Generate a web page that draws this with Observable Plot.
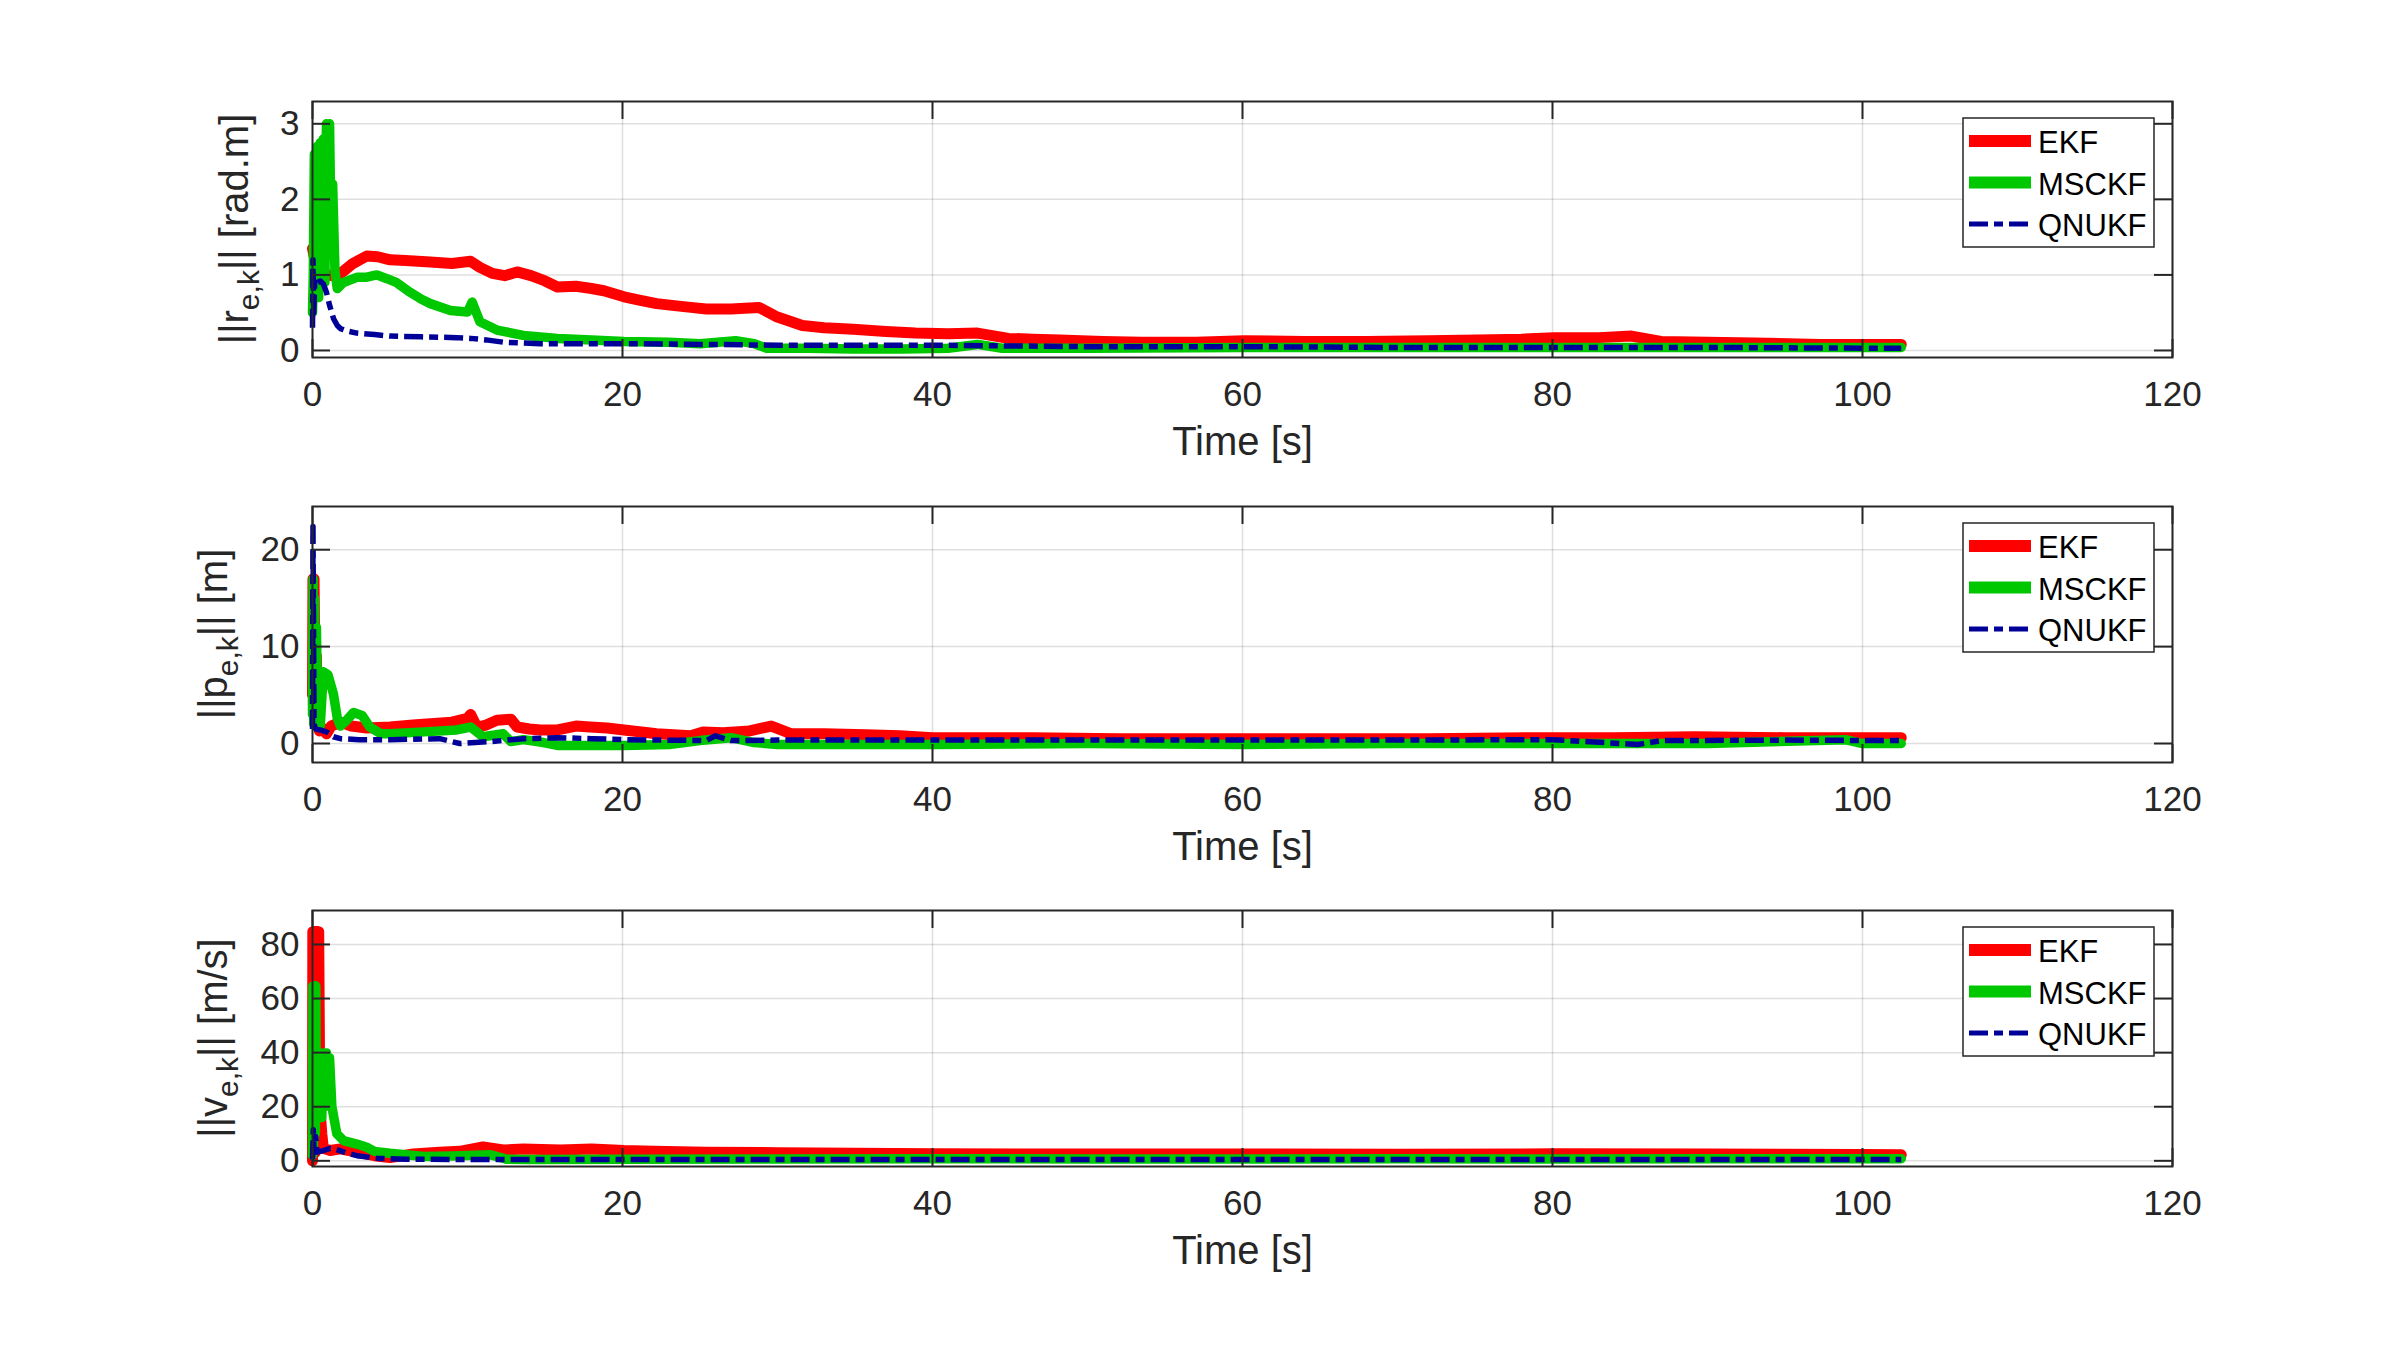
<!DOCTYPE html>
<html><head><meta charset="utf-8">
<script src="https://cdn.jsdelivr.net/npm/d3@7"></script>
<script src="https://cdn.jsdelivr.net/npm/@observablehq/plot@0.6"></script>
<style>
html,body{margin:0;padding:0;background:#fff;}
#fig{position:relative;width:2400px;height:1350px;overflow:hidden;background:#fff;}
#fig svg{position:absolute;left:0;}
</style></head><body><div id="fig"></div>
<script>
// ---------- series meta ----------
const seriesNames = ["EKF", "MSCKF", "QNUKF"];
const seriesColors = ["#ff0000", "#00c800", "#000099"];
const xTicks = [0, 20, 40, 60, 80, 100, 120];
const xLabel = "Time [s]";

// ---------- panel 1: ||r_e,k|| [rad.m] ----------
const rTicks = [0, 1, 2, 3];
const rEKF_t = [0, 0.1, 0.3, 0.6, 1.0, 1.5, 2.0, 2.6, 3.5, 4.2, 5.0, 6.0, 7.6, 9.0, 10.2, 10.8, 11.6, 12.4, 13.2, 14.1, 15.0, 15.8, 17.0, 18.0, 18.8, 20.1, 21.0, 22.2, 23.5, 24.4, 25.4, 27.0, 28.8, 29.9, 31.6, 33.0, 34.9, 37.0, 38.9, 41.0, 42.9, 44.9, 46.5, 48.2, 51.0, 53.5, 57.0, 60.1, 64.0, 68.0, 72.0, 75.2, 78.0, 80.1, 83.0, 85.1, 87.0, 90.0, 93.0, 97.3, 100.6, 102.5];
const rEKF_v = [1.35, 1.25, 1.15, 1.05, 1.0, 0.98, 1.05, 1.15, 1.25, 1.24, 1.20, 1.19, 1.17, 1.15, 1.18, 1.10, 1.02, 0.99, 1.04, 0.99, 0.92, 0.84, 0.85, 0.82, 0.79, 0.71, 0.67, 0.62, 0.59, 0.57, 0.55, 0.55, 0.57, 0.45, 0.33, 0.30, 0.28, 0.25, 0.23, 0.22, 0.23, 0.16, 0.15, 0.14, 0.12, 0.11, 0.11, 0.13, 0.12, 0.12, 0.13, 0.14, 0.15, 0.17, 0.17, 0.19, 0.12, 0.11, 0.10, 0.08, 0.08, 0.08];
const rMSCKF_t = [0, 0.05, 0.12, 0.2, 0.3, 0.4, 0.5, 0.6, 0.7, 0.8, 0.9, 1.0, 1.1, 1.2, 1.3, 1.45, 1.6, 2.0, 2.9, 3.5, 4.15, 4.8, 5.4, 6.3, 7.0, 7.6, 8.9, 10.0, 10.3, 10.8, 11.9, 13.6, 15.8, 18.0, 20.1, 23.0, 25.0, 27.3, 28.5, 29.3, 32.0, 34.9, 38.0, 41.0, 42.9, 44.5, 50, 60, 70, 80, 90, 100, 102.5];
const rMSCKF_v = [0.5, 1.0, 2.6, 0.9, 2.7, 0.7, 2.75, 1.1, 2.8, 0.9, 3.0, 1.3, 3.0, 1.5, 2.2, 1.05, 0.82, 0.9, 0.97, 0.97, 1.0, 0.95, 0.90, 0.77, 0.68, 0.62, 0.53, 0.51, 0.64, 0.38, 0.27, 0.20, 0.16, 0.14, 0.12, 0.11, 0.09, 0.13, 0.09, 0.03, 0.03, 0.02, 0.02, 0.03, 0.08, 0.03, 0.03, 0.04, 0.04, 0.04, 0.04, 0.04, 0.04];
const rQNUKF_t = [0, 0.03, 0.08, 0.15, 0.3, 0.5, 0.7, 0.9, 1.1, 1.36, 1.6, 1.8, 2.2, 2.86, 4.0, 5.0, 7.0, 9.3, 10.2, 11.2, 12.3, 13.5, 14.7, 17, 20.1, 25.4, 30, 35, 40, 45, 50, 60, 70, 80, 90, 100, 102.5];
const rQNUKF_v = [0.3, 1.2, 0.5, 0.95, 0.9, 0.92, 0.88, 0.77, 0.6, 0.42, 0.33, 0.29, 0.26, 0.23, 0.21, 0.19, 0.18, 0.17, 0.16, 0.14, 0.11, 0.10, 0.09, 0.09, 0.09, 0.08, 0.07, 0.07, 0.07, 0.06, 0.05, 0.05, 0.04, 0.04, 0.04, 0.03, 0.03];

// ---------- panel 2: ||p_e,k|| [m] ----------
const pTicks = [0, 10, 20];
const pEKF_t = [0, 0.03, 0.06, 0.1, 0.15, 0.25, 0.35, 0.45, 0.7, 0.9, 1.2, 1.8, 2.5, 3.5, 5.0, 6.5, 7.6, 9.0, 10.0, 10.2, 10.6, 11.2, 11.9, 12.8, 13.2, 14.0, 14.7, 15.8, 17.0, 17.9, 19.0, 20.1, 22.2, 24.4, 25.2, 26.5, 28.2, 29.6, 30.9, 33.0, 35.7, 37.9, 40.0, 46.4, 52, 59.8, 66, 72, 78.5, 84, 89.2, 95, 102.5];
const pEKF_v = [5, 17, 4, 17, 8, 9, 2, 1.3, 1.5, 1.0, 1.8, 2.2, 1.8, 1.6, 1.7, 1.9, 2.05, 2.2, 2.6, 3.0, 1.7, 1.9, 2.4, 2.5, 1.7, 1.5, 1.4, 1.4, 1.8, 1.7, 1.6, 1.4, 1.0, 0.8, 1.2, 1.1, 1.3, 1.8, 1.0, 1.0, 0.9, 0.8, 0.6, 0.6, 0.5, 0.5, 0.5, 0.5, 0.6, 0.6, 0.7, 0.6, 0.6];
const pMSCKF_t = [0, 0.04, 0.08, 0.12, 0.18, 0.25, 0.35, 0.5, 0.7, 1.0, 1.35, 1.6, 1.8, 2.2, 2.65, 3.2, 3.7, 4.4, 5.0, 7.2, 9.3, 10.2, 11.0, 12.3, 12.8, 13.6, 14.9, 15.8, 18, 20.1, 23, 25, 27, 28.5, 30, 35, 40, 50, 60, 70, 80, 90, 98.9, 100, 102.5];
const pMSCKF_v = [3, 17, 2, 15, 3, 12, 1.8, 1.8, 7.4, 7.1, 5.1, 2.6, 1.8, 2.4, 3.2, 2.9, 1.7, 1.0, 1.0, 1.2, 1.4, 1.7, 0.7, 1.0, 0.2, 0.4, 0.1, -0.2, -0.2, -0.2, -0.1, 0.3, 0.6, 0.1, -0.1, -0.1, -0.1, 0.0, -0.1, 0.0, 0.0, 0.0, 0.4, 0.0, 0.0];
const pQNUKF_t = [0, 0.03, 0.06, 0.1, 0.2, 0.5, 0.9, 1.35, 1.8, 3, 5.0, 8.2, 9.5, 11.5, 13.6, 15.8, 18, 20.1, 25.4, 26, 27, 30, 40, 50, 60, 70, 80, 85.5, 87, 95, 102.5];
const pQNUKF_v = [1.5, 22.4, 14, 2, 1.5, 1.4, 1.2, 0.7, 0.5, 0.4, 0.4, 0.5, 0.0, 0.2, 0.5, 0.6, 0.5, 0.4, 0.3, 0.8, 0.3, 0.35, 0.35, 0.35, 0.35, 0.35, 0.4, -0.1, 0.3, 0.35, 0.3];

// ---------- panel 3: ||v_e,k|| [m/s] ----------
const vTicks = [0, 20, 40, 60, 80];
const vEKF_t = [0, 0.02, 0.05, 0.08, 0.11, 0.14, 0.17, 0.2, 0.23, 0.26, 0.29, 0.32, 0.35, 0.4, 0.45, 0.5, 0.6, 0.7, 1.14, 1.8, 2.86, 4.0, 5.0, 6.5, 8.2, 9.5, 11.0, 12.3, 13.6, 16, 18.0, 20.1, 22, 25.4, 30, 35, 40, 50, 60, 70, 80, 90, 100, 102.5];
const vEKF_v = [0, 84.7, 3, 84.7, 3, 84.7, 3, 84.7, 4, 84.7, 5, 84.7, 6, 84.7, 40, 17.7, 10, 4.6, 3.8, 4.4, 3.2, 1.9, 1.2, 2.5, 3.2, 3.5, 5.1, 4.0, 4.4, 4.0, 4.4, 3.8, 3.5, 3.2, 3.0, 2.8, 2.6, 2.5, 2.5, 2.4, 2.6, 2.5, 2.3, 2.2];
const vMSCKF_t = [0, 0.03, 0.06, 0.09, 0.12, 0.15, 0.18, 0.21, 0.25, 0.3, 0.4, 0.5, 0.6, 0.7, 0.8, 0.9, 1.0, 1.1, 1.25, 1.57, 2.0, 2.86, 3.5, 4.0, 5.0, 7.2, 9.0, 11.5, 12.5, 14, 20, 30, 40, 50, 60, 70, 80, 90, 100, 102.5];
const vMSCKF_v = [2, 64.6, 5, 64.6, 8, 64.6, 10, 64.6, 15, 39.9, 18, 39.9, 16, 39.9, 20, 39.9, 22, 38, 20, 10, 7.5, 6.2, 5, 3.5, 2.8, 1.6, 1.8, 2.2, 0.6, 0.5, 0.6, 0.7, 0.8, 0.7, 0.7, 0.8, 0.7, 0.8, 0.8, 0.8];
const vQNUKF_t = [0, 0.05, 0.1, 0.2, 0.3, 0.5, 0.7, 1.14, 1.5, 2.0, 2.86, 4.2, 6, 10, 20, 30, 40, 50, 60, 70, 80, 90, 100, 102.5];
const vQNUKF_v = [0.5, 11.5, 3, 9, 3.2, 3.5, 3.8, 4.6, 4.2, 3.3, 1.9, 0.9, 0.6, 0.5, 0.5, 0.5, 0.5, 0.5, 0.5, 0.5, 0.5, 0.5, 0.5, 0.5];

// ---------- build ----------
const rows = (t, v) => t.map((d, i) => ({t: d, v: v[i]}));
const panels = [
  {top: 101, yDomain: [-0.093, 3.295], yTicks: rTicks, sym: "r", unit: "|| [rad.m]", labelX: 247.5,
   series: [rows(rEKF_t, rEKF_v), rows(rMSCKF_t, rMSCKF_v), rows(rQNUKF_t, rQNUKF_v)]},
  {top: 506, yDomain: [-1.96, 24.46], yTicks: pTicks, sym: "p", unit: "|| [m]", labelX: 227,
   series: [rows(pEKF_t, pEKF_v), rows(pMSCKF_t, pMSCKF_v), rows(pQNUKF_t, pQNUKF_v)]},
  {top: 910, yDomain: [-2.1, 92.55], yTicks: vTicks, sym: "v", unit: "|| [m/s]", labelX: 227,
   series: [rows(vEKF_t, vEKF_v), rows(vMSCKF_t, vMSCKF_v), rows(vQNUKF_t, vQNUKF_v)]}
];

const W = 2400, H = 440, mL = 312, mR = 228, mT = 20, mB = 164;
const fw = W - mL - mR, fh = H - mT - mB;
const ink = "#262626";
const font = "'Liberation Sans', Arial, sans-serif";
const widths = [11, 9.5, 5.5];
const dash = [null, null, "19,6,9,6"];
const fmt = d => String(d);
const fig = document.getElementById("fig");

for (const p of panels) {
  const lineMarks = p.series.map((s, i) => Plot.line(s, {
    x: "t", y: "v", stroke: seriesColors[i], strokeWidth: widths[i],
    strokeDasharray: dash[i] || undefined,
    strokeLinecap: i === 2 ? "butt" : "round", strokeLinejoin: "round"
  }));
  const svg = Plot.plot({
    width: W, height: H, marginLeft: mL, marginRight: mR, marginTop: mT, marginBottom: mB,
    style: {background: "transparent", color: ink, fontFamily: font, fontSize: "35px"},
    x: {domain: [0, 120], label: null},
    y: {domain: p.yDomain, label: null},
    marks: [
      Plot.gridX(xTicks, {stroke: ink, strokeOpacity: 0.15, strokeWidth: 1.5}),
      Plot.gridY(p.yTicks, {stroke: ink, strokeOpacity: 0.15, strokeWidth: 1.5}),
      ...lineMarks,
      Plot.ruleX(xTicks, {stroke: ink, strokeWidth: 2, insetBottom: fh - 18}),
      Plot.ruleX(xTicks, {stroke: ink, strokeWidth: 2, insetTop: fh - 18}),
      Plot.ruleY(p.yTicks, {stroke: ink, strokeWidth: 2, insetRight: fw - 18}),
      Plot.ruleY(p.yTicks, {stroke: ink, strokeWidth: 2, insetLeft: fw - 18}),
      Plot.frame({stroke: ink, strokeWidth: 2}),
      Plot.axisX(xTicks, {tickSize: 0, tickPadding: 24, fontSize: 35, label: null, tickFormat: fmt}),
      Plot.axisY(p.yTicks, {tickSize: 0, tickPadding: 13, fontSize: 35, label: null, tickFormat: fmt}),
      Plot.text([xLabel], {text: d => d, frameAnchor: "bottom", dy: 97, fontSize: 40, fill: ink})
    ]
  });
  svg.style.top = (p.top - mT) + "px";
  fig.appendChild(svg);
  const s = d3.select(svg);
  // y-axis label with subscript
  const lab = s.append("text")
    .attr("transform", `translate(${p.labelX},${mT + fh / 2}) rotate(-90)`)
    .attr("text-anchor", "middle").attr("font-size", 40).attr("fill", ink)
    .attr("font-family", font);
  lab.append("tspan").text("||" + p.sym);
  lab.append("tspan").attr("font-size", 30).attr("dy", 11).text("e,k");
  lab.append("tspan").attr("dy", -11).text(p.unit);
  // legend
  const lx = mL + fw - 18 - 191, ly = mT + 17;
  const g = s.append("g");
  g.append("rect").attr("x", lx).attr("y", ly).attr("width", 191).attr("height", 129)
    .attr("fill", "#fff").attr("stroke", ink).attr("stroke-width", 1.5);
  seriesNames.forEach((n, i) => {
    const yy = ly + 23 + i * 41.5;
    g.append("line").attr("x1", lx + 6).attr("x2", lx + 68).attr("y1", yy).attr("y2", yy)
      .attr("stroke", seriesColors[i]).attr("stroke-width", i === 2 ? 5 : 12)
      .attr("stroke-dasharray", dash[i]);
    g.append("text").attr("x", lx + 75).attr("y", yy + 12).attr("font-size", 31)
      .attr("text-anchor", "start")
      .attr("fill", "#000").attr("font-family", font).text(n);
  });
}
</script></body></html>
